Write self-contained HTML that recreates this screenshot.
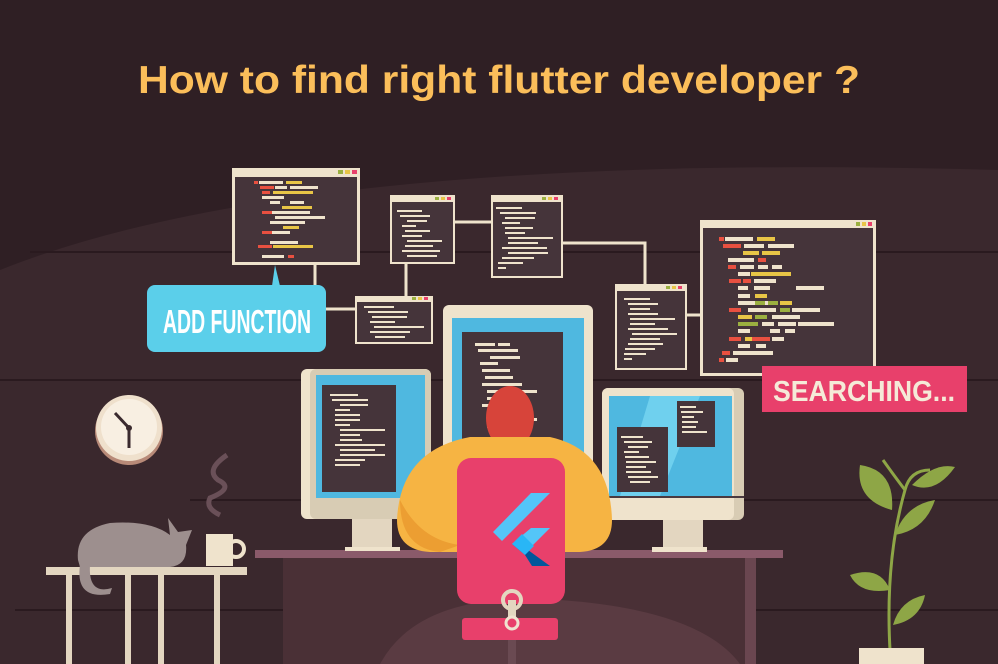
<!DOCTYPE html>
<html><head><meta charset="utf-8"><style>
html,body{margin:0;padding:0;background:#2f1f24;}
svg{display:block;}
</style></head><body>
<svg width="998" height="664" viewBox="0 0 998 664" xmlns="http://www.w3.org/2000/svg">
<rect width="998" height="664" fill="#2f1f24"/>
<path d="M0 270 Q300 150 998 170 L998 664 L0 664 Z" fill="#3a282d"/>
<g stroke="#2a1a1f" stroke-width="2">
<line x1="30" y1="252" x2="998" y2="252"/><line x1="0" y1="380" x2="998" y2="380"/><line x1="15" y1="610" x2="998" y2="610"/><line x1="190" y1="500" x2="998" y2="500"/>
</g>
<text x="499" y="93" text-anchor="middle" font-family="Liberation Sans, sans-serif" font-weight="bold" font-size="39" fill="#fbbe5a" textLength="722" lengthAdjust="spacingAndGlyphs">How to find right flutter developer ?</text>

<!-- connectors -->
<g stroke="#efe3cc" stroke-width="3" fill="none">
<path d="M315 265 V310"/><path d="M325 309 H356"/><path d="M406 264 V296"/><path d="M455 222 H491"/><path d="M563 243 H645 V284"/><path d="M687 315 H700"/>
</g>

<!-- windows -->
<g>
<rect x="232" y="168" width="128" height="97" fill="#efe3cc"/><rect x="235" y="177" width="122" height="85" fill="#45343a"/>
<rect x="338" y="170" width="5" height="4" fill="#9bb040"/><rect x="345" y="170" width="5" height="4" fill="#e8c546"/><rect x="352" y="170" width="5" height="4" fill="#e8406b"/>
<g fill="#efe3cc"><rect x="259" y="181" width="24" height="3"/><rect x="275" y="186" width="12" height="3"/><rect x="290" y="186" width="28" height="3"/><rect x="262" y="196" width="22" height="3"/><rect x="270" y="201" width="10" height="3"/><rect x="290" y="201" width="14" height="3"/><rect x="270" y="211" width="40" height="3"/><rect x="275" y="216" width="50" height="3"/><rect x="270" y="221" width="35" height="3"/><rect x="270" y="231" width="20" height="3"/><rect x="270" y="241" width="28" height="3"/><rect x="262" y="255" width="22" height="3"/></g>
<g fill="#e8c546"><rect x="286" y="181" width="16" height="3"/><rect x="273" y="191" width="40" height="3"/><rect x="282" y="206" width="30" height="3"/><rect x="283" y="226" width="16" height="3"/><rect x="273" y="245" width="40" height="3"/></g>
<g fill="#e85040"><rect x="254" y="181" width="4" height="3"/><rect x="260" y="186" width="14" height="3"/><rect x="262" y="191" width="8" height="3"/><rect x="262" y="211" width="10" height="3"/><rect x="262" y="231" width="10" height="3"/><rect x="258" y="245" width="14" height="3"/><rect x="288" y="255" width="6" height="3"/></g>

<rect x="390" y="195" width="65" height="69" fill="#efe3cc"/><rect x="392" y="202" width="61" height="60" fill="#45343a"/>
<rect x="435" y="197" width="4" height="3" fill="#9bb040"/><rect x="441" y="197" width="4" height="3" fill="#e8c546"/><rect x="447" y="197" width="4" height="3" fill="#e8406b"/>
<g fill="#efe3cc"><rect x="397" y="210" width="25" height="2"/><rect x="400" y="215" width="30" height="2"/><rect x="407" y="220" width="20" height="2"/><rect x="402" y="225" width="14" height="2"/><rect x="405" y="230" width="25" height="2"/><rect x="402" y="235" width="20" height="2"/><rect x="407" y="240" width="35" height="2"/><rect x="405" y="245" width="28" height="2"/><rect x="402" y="250" width="38" height="2"/><rect x="407" y="255" width="30" height="2"/></g>

<rect x="491" y="195" width="72" height="83" fill="#efe3cc"/><rect x="493" y="202" width="68" height="74" fill="#45343a"/>
<rect x="542" y="197" width="4" height="3" fill="#9bb040"/><rect x="548" y="197" width="4" height="3" fill="#e8c546"/><rect x="554" y="197" width="4" height="3" fill="#e8406b"/>
<g fill="#efe3cc"><rect x="496" y="207" width="26" height="2"/><rect x="500" y="212" width="36" height="2"/><rect x="505" y="217" width="30" height="2"/><rect x="502" y="222" width="18" height="2"/><rect x="505" y="227" width="28" height="2"/><rect x="505" y="232" width="20" height="2"/><rect x="508" y="237" width="45" height="2"/><rect x="508" y="242" width="30" height="2"/><rect x="502" y="247" width="45" height="2"/><rect x="508" y="252" width="40" height="2"/><rect x="502" y="257" width="32" height="2"/><rect x="498" y="262" width="25" height="2"/><rect x="498" y="267" width="8" height="2"/></g>

<rect x="355" y="296" width="78" height="48" fill="#efe3cc"/><rect x="357" y="302" width="74" height="40" fill="#45343a"/>
<rect x="412" y="297" width="4" height="3" fill="#9bb040"/><rect x="418" y="297" width="4" height="3" fill="#e8c546"/><rect x="424" y="297" width="4" height="3" fill="#e8406b"/>
<g fill="#efe3cc"><rect x="364" y="306" width="30" height="2"/><rect x="368" y="311" width="40" height="2"/><rect x="372" y="316" width="35" height="2"/><rect x="370" y="321" width="25" height="2"/><rect x="374" y="326" width="50" height="2"/><rect x="370" y="331" width="40" height="2"/><rect x="375" y="336" width="30" height="2"/></g>

<rect x="615" y="284" width="72" height="86" fill="#efe3cc"/><rect x="617" y="291" width="68" height="77" fill="#45343a"/>
<rect x="666" y="286" width="4" height="3" fill="#9bb040"/><rect x="672" y="286" width="4" height="3" fill="#e8c546"/><rect x="678" y="286" width="4" height="3" fill="#e8406b"/>
<g fill="#efe3cc"><rect x="624" y="298" width="26" height="2"/><rect x="628" y="303" width="30" height="2"/><rect x="630" y="308" width="20" height="2"/><rect x="628" y="313" width="30" height="2"/><rect x="630" y="318" width="45" height="2"/><rect x="630" y="323" width="25" height="2"/><rect x="628" y="328" width="40" height="2"/><rect x="632" y="333" width="45" height="2"/><rect x="630" y="338" width="30" height="2"/><rect x="628" y="343" width="35" height="2"/><rect x="625" y="348" width="30" height="2"/><rect x="624" y="353" width="22" height="2"/><rect x="624" y="358" width="8" height="2"/></g>

<rect x="700" y="220" width="176" height="156" fill="#efe3cc"/><rect x="703" y="228" width="170" height="145" fill="#45343a"/>
<rect x="856" y="222" width="4" height="4" fill="#9bb040"/><rect x="862" y="222" width="4" height="4" fill="#e8c546"/><rect x="868" y="222" width="4" height="4" fill="#e8406b"/>
<g fill="#efe3cc"><rect x="725" y="237" width="28" height="4"/><rect x="744" y="244" width="20" height="4"/><rect x="768" y="244" width="26" height="4"/><rect x="728" y="258" width="26" height="4"/><rect x="740" y="265" width="14" height="4"/><rect x="758" y="265" width="10" height="4"/><rect x="772" y="265" width="10" height="4"/><rect x="738" y="272" width="12" height="4"/><rect x="754" y="279" width="22" height="4"/><rect x="738" y="286" width="10" height="4"/><rect x="754" y="286" width="16" height="4"/><rect x="796" y="286" width="28" height="4"/><rect x="738" y="294" width="12" height="4"/><rect x="738" y="301" width="30" height="4"/><rect x="748" y="308" width="8" height="4"/><rect x="756" y="308" width="20" height="4"/><rect x="792" y="308" width="28" height="4"/><rect x="772" y="315" width="6" height="4"/><rect x="778" y="315" width="22" height="4"/><rect x="762" y="322" width="12" height="4"/><rect x="778" y="322" width="18" height="4"/><rect x="798" y="322" width="36" height="4"/><rect x="738" y="329" width="12" height="4"/><rect x="770" y="329" width="10" height="4"/><rect x="785" y="329" width="10" height="4"/><rect x="772" y="337" width="12" height="4"/><rect x="738" y="344" width="12" height="4"/><rect x="756" y="344" width="10" height="4"/><rect x="733" y="351" width="40" height="4"/><rect x="726" y="358" width="12" height="4"/></g>
<g fill="#e8c546"><rect x="757" y="237" width="18" height="4"/><rect x="743" y="251" width="16" height="4"/><rect x="762" y="251" width="18" height="4"/><rect x="751" y="272" width="40" height="4"/><rect x="755" y="294" width="12" height="4"/><rect x="780" y="301" width="12" height="4"/><rect x="738" y="315" width="14" height="4"/><rect x="745" y="337" width="24" height="4"/></g>
<g fill="#9bb040"><rect x="755" y="301" width="10" height="4"/><rect x="768" y="301" width="10" height="4"/><rect x="780" y="308" width="10" height="4"/><rect x="755" y="315" width="12" height="4"/><rect x="738" y="322" width="20" height="4"/></g>
<g fill="#e85040"><rect x="719" y="237" width="5" height="4"/><rect x="723" y="244" width="18" height="4"/><rect x="758" y="258" width="8" height="4"/><rect x="728" y="265" width="8" height="4"/><rect x="729" y="279" width="12" height="4"/><rect x="743" y="279" width="8" height="4"/><rect x="729" y="308" width="12" height="4"/><rect x="729" y="337" width="12" height="4"/><rect x="752" y="337" width="18" height="4"/><rect x="722" y="351" width="8" height="4"/><rect x="719" y="358" width="5" height="4"/></g>
</g>

<!-- ADD FUNCTION bubble -->
<path d="M272 286 L275 265 L280 286 Z" fill="#5bcfea"/>
<rect x="147" y="285" width="179" height="67" rx="8" fill="#5bcfea"/>
<text x="237" y="333" text-anchor="middle" font-family="Liberation Sans Narrow, Liberation Sans, sans-serif" font-weight="bold" font-size="33" fill="#ffffff" textLength="148" lengthAdjust="spacingAndGlyphs">ADD FUNCTION</text>

<!-- SEARCHING -->
<rect x="762" y="366" width="205" height="46" fill="#e8406b"/>
<text x="864" y="401" text-anchor="middle" font-family="Liberation Sans, sans-serif" font-weight="bold" font-size="29" fill="#f5ead8" textLength="182" lengthAdjust="spacingAndGlyphs">SEARCHING...</text>

<!-- clock -->
<circle cx="129" cy="431" r="34" fill="#b88a78"/>
<circle cx="129" cy="428" r="33" fill="#efe0cc"/>
<circle cx="129" cy="427" r="28" fill="#f8efe2"/>
<path d="M115 413 L129 428 L129 448" stroke="#3a2a2e" stroke-width="3" fill="none"/>
<circle cx="129" cy="428" r="3" fill="#3a2a2e"/>

<!-- steam -->
<path d="M227 455 Q205 470 218 480 Q235 488 210 498 Q205 508 220 515" stroke="#6a5058" stroke-width="5" fill="none"/>

<!-- side table -->
<g fill="#e3d6c0"><rect x="46" y="567" width="201" height="8"/><rect x="66" y="575" width="6" height="89"/><rect x="125" y="575" width="6" height="89"/><rect x="158" y="575" width="6" height="89"/><rect x="214" y="575" width="6" height="89"/></g>
<!-- cat -->
<path d="M78 560 Q75 530 110 523 Q150 520 170 535 L168 518 L178 532 L192 530 L186 545 Q188 565 170 567 L80 567 Z" fill="#9d8f8e"/>
<path d="M80 565 Q75 600 110 594 L112 588 Q88 595 90 565Z" fill="#9d8f8e"/>
<!-- mug -->
<rect x="206" y="534" width="27" height="32" fill="#efe3cc"/>
<circle cx="236" cy="549" r="8" fill="none" stroke="#efe3cc" stroke-width="4"/>

<!-- desk -->
<rect x="255" y="550" width="528" height="8" fill="#8a5a6a"/>
<rect x="283" y="558" width="473" height="106" fill="#4a3036"/>
<path d="M380 664 Q420 590 560 600 Q700 610 740 664Z" fill="#5a3b42"/>
<rect x="745" y="558" width="11" height="106" fill="#6a4650"/>

<!-- left monitor -->
<rect x="352" y="515" width="40" height="36" fill="#e3d6c0"/>
<rect x="345" y="547" width="55" height="4" fill="#efe3cc"/>
<rect x="301" y="369" width="130" height="150" rx="6" fill="#efe3cc"/>
<rect x="310" y="369" width="121" height="150" rx="6" fill="#d8ccb4"/>
<rect x="316" y="375" width="109" height="123" fill="#4fb8e0"/>
<rect x="322" y="385" width="74" height="107" fill="#45343a"/>
<g fill="#efe3cc"><rect x="330" y="394" width="28" height="2"/><rect x="332" y="399" width="36" height="2"/><rect x="340" y="404" width="28" height="2"/><rect x="335" y="409" width="15" height="2"/><rect x="335" y="414" width="25" height="2"/><rect x="335" y="419" width="25" height="2"/><rect x="335" y="424" width="15" height="2"/><rect x="340" y="429" width="45" height="2"/><rect x="340" y="434" width="20" height="2"/><rect x="340" y="439" width="22" height="2"/><rect x="335" y="444" width="50" height="2"/><rect x="340" y="449" width="35" height="2"/><rect x="340" y="454" width="45" height="2"/><rect x="335" y="459" width="30" height="2"/><rect x="335" y="464" width="25" height="2"/></g>

<!-- right monitor -->
<rect x="663" y="515" width="40" height="36" fill="#e3d6c0"/>
<rect x="652" y="547" width="55" height="5" fill="#efe3cc"/>
<rect x="602" y="388" width="142" height="132" rx="6" fill="#d8ccb4"/>
<rect x="602" y="388" width="132" height="132" rx="6" fill="#efe3cc"/>
<rect x="609" y="396" width="123" height="100" fill="#4fb8e0"/>
<path d="M650 396 L700 396 L660 496 L620 496Z" fill="#6fd0ee"/>
<rect x="602" y="496" width="142" height="2" fill="#4a3a40"/>
<rect x="617" y="427" width="51" height="65" fill="#45343a"/>
<rect x="677" y="401" width="38" height="46" fill="#45343a"/>
<g fill="#efe3cc"><rect x="621" y="436" width="22" height="2"/><rect x="624" y="441" width="28" height="2"/><rect x="628" y="446" width="20" height="2"/><rect x="624" y="451" width="15" height="2"/><rect x="625" y="456" width="24" height="2"/><rect x="626" y="461" width="30" height="2"/><rect x="626" y="466" width="20" height="2"/><rect x="626" y="471" width="25" height="2"/><rect x="628" y="476" width="30" height="2"/><rect x="630" y="481" width="20" height="2"/><rect x="680" y="406" width="16" height="2"/><rect x="681" y="411" width="22" height="2"/><rect x="682" y="416" width="12" height="2"/><rect x="682" y="421" width="16" height="2"/><rect x="682" y="426" width="14" height="2"/><rect x="682" y="431" width="25" height="2"/></g>

<!-- center monitor -->
<rect x="443" y="305" width="150" height="200" rx="6" fill="#efe3cc"/>
<rect x="452" y="318" width="132" height="190" fill="#4fb8e0"/>
<rect x="462" y="332" width="101" height="170" fill="#45343a"/>
<g fill="#efe3cc"><rect x="475" y="343" width="20" height="3"/><rect x="498" y="343" width="12" height="3"/><rect x="478" y="349" width="40" height="3"/><rect x="490" y="356" width="30" height="3"/><rect x="480" y="362" width="18" height="3"/><rect x="482" y="369" width="28" height="3"/><rect x="485" y="376" width="28" height="3"/><rect x="482" y="383" width="40" height="3"/><rect x="487" y="390" width="50" height="3"/><rect x="487" y="397" width="30" height="3"/><rect x="482" y="404" width="45" height="3"/><rect x="487" y="411" width="40" height="3"/><rect x="487" y="418" width="50" height="3"/><rect x="487" y="425" width="30" height="3"/></g>

<!-- person -->
<ellipse cx="510" cy="418" rx="24" ry="32" fill="#d7443a"/>
<path d="M397 520 Q400 450 470 437 L550 437 Q610 450 612 520 Q612 550 580 552 L430 552 Q397 550 397 520Z" fill="#f6b443"/>
<path d="M400 500 Q420 540 460 545 L440 552 Q400 548 400 500Z" fill="#ec9e32"/>
<!-- chair -->
<rect x="508" y="598" width="8" height="66" fill="#6a4a52"/>
<rect x="457" y="458" width="108" height="146" rx="14" fill="#e8406b"/>
<rect x="508" y="600" width="8" height="25" fill="#e3d6c0"/>
<circle cx="512" cy="600" r="9" fill="none" stroke="#e3d6c0" stroke-width="4"/>
<rect x="462" y="618" width="96" height="22" rx="3" fill="#e8406b"/>
<circle cx="512" cy="623" r="6" fill="none" stroke="#f0e2d0" stroke-width="3"/>
<!-- flutter logo -->
<path d="M531 493 L550 493 L502 541 L493 532Z" fill="#54c5f8"/>
<path d="M531 528 L550 528 L528 550 L512 544Z" fill="#54c5f8"/>
<path d="M512 544 L525 555 L532 566 L550 566 L528 550Z" fill="#01579b"/>
<path d="M512 544 L522 534 L534 546 L525 555Z" fill="#29b6f6"/>

<!-- plant -->
<path d="M890 650 Q885 560 905 490 Q910 470 930 470" stroke="#8ea646" stroke-width="3" fill="none"/>
<path d="M905 490 Q890 470 883 460" stroke="#8ea646" stroke-width="3" fill="none"/>
<g fill="#8ea646">
<path d="M860 465 Q895 470 892 510 Q855 500 860 465Z"/>
<path d="M955 467 Q935 462 912 485 Q935 495 955 467Z"/>
<path d="M935 500 Q905 505 895 535 Q925 530 935 500Z"/>
<path d="M850 575 Q880 565 890 590 Q860 595 850 575Z"/>
<path d="M925 595 Q900 600 893 625 Q920 620 925 595Z"/>
</g>
<rect x="859" y="648" width="65" height="16" fill="#efe3cc"/>
</svg>
</body></html>
